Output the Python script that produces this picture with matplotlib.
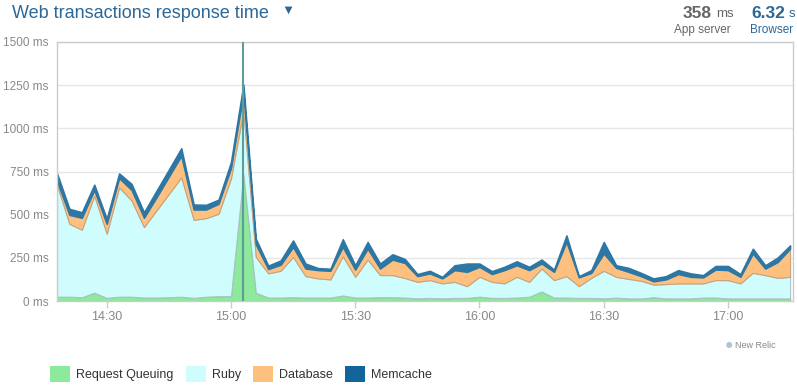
import matplotlib
matplotlib.use("Agg")
import matplotlib.pyplot as plt
from matplotlib.patches import Patch
import numpy as np

plt.rcParams['font.family'] = ['Liberation Sans', 'DejaVu Sans']

# minutes past 14:00, one sample every 3 minutes
minutes = list(range(18, 198, 3))

queuing = [25, 25, 22, 48, 18, 25, 25, 20, 20, 22, 25, 18, 25, 28, 28, 735, 48, 20, 20, 22,
           20, 20, 20, 32, 20, 20, 22, 22, 20, 15, 18, 15, 18, 18, 25, 18, 18, 20, 25, 55,
           20, 20, 18, 18, 15, 20, 15, 15, 22, 15, 15, 15, 20, 20, 15, 15, 15, 15, 15, 15]
ruby = [647, 422, 391, 562, 372, 633, 557, 408, 504, 598, 691, 452, 455, 477, 682, 365, 207, 140, 155, 233,
        124, 111, 105, 227, 120, 220, 128, 128, 113, 96, 103, 87, 93, 68, 115, 93, 84, 120, 86, 133,
        101, 124, 68, 116, 160, 120, 113, 102, 73, 83, 87, 87, 82, 101, 106, 87, 148, 135, 119, 125]
database = [23, 52, 69, 33, 57, 54, 61, 54, 76, 100, 125, 60, 50, 58, 60, 106, 73, 25, 35, 58,
            44, 48, 50, 54, 42, 63, 38, 90, 87, 33, 39, 29, 68, 83, 58, 45, 77, 67, 68, 29,
            48, 198, 51, 29, 100, 52, 41, 27, 19, 27, 54, 38, 35, 61, 58, 38, 112, 38, 92, 163]
memcache = [45, 35, 32, 31, 29, 27, 35, 32, 38, 41, 44, 29, 27, 24, 35, 48, 33, 20, 25, 38,
            29, 12, 12, 45, 25, 39, 29, 31, 23, 12, 15, 9, 28, 48, 19, 17, 19, 23, 19, 23,
            13, 38, 7, 16, 67, 15, 23, 19, 17, 19, 23, 20, 13, 21, 24, 16, 28, 19, 26, 19]

event_minute = 63
series_names = ['Request Queuing', 'Ruby', 'Database', 'Memcache']
colors = ['#8de99b', '#cffdfd', '#fec07f', '#2d77a5']
legend_colors = ['#8de99b', '#cffdfd', '#fec07f', '#14649c']
edges = ['#7fc98c', '#a9c4c4', '#c9a27a', '#2d77a5']

yticks = [0, 250, 500, 750, 1000, 1250, 1500]
xticks = [30, 60, 90, 120, 150, 180]
xlabels = ['14:30', '15:00', '15:30', '16:00', '16:30', '17:00']

fig = plt.figure(figsize=(7.97, 3.91), dpi=100)
ax = fig.add_axes([57 / 797, 90 / 391, 736 / 797, 259 / 391])

polys = ax.stackplot(minutes, queuing, ruby, database, memcache, colors=colors, zorder=2)
for p, ec in zip(polys, edges):
    p.set_edgecolor(ec)
    p.set_linewidth(0.8)
polys[3].set_linewidth(1.1)

ax.axvline(event_minute, color='#5d9e98', lw=1.5, zorder=3)

ax.set_xlim(minutes[0], minutes[-1] + 0.7)
ax.set_ylim(0, 1500)
ax.set_yticks(yticks)
ax.set_yticklabels([f'{v} ms' for v in yticks])
ax.set_xticks(xticks)
ax.set_xticklabels(xlabels)
ax.grid(axis='y', color='#e6e6e6', lw=1, zorder=0)
ax.set_axisbelow(True)
ax.tick_params(axis='y', length=0, pad=6, labelsize=8.5, labelcolor='#888888')
ax.tick_params(axis='x', length=5, width=1, color='#cccccc', pad=2, labelsize=9, labelcolor='#888888')
for s in ax.spines.values():
    s.set_color('#cccccc')
    s.set_linewidth(1)

fig.text(12 / 797, 1 - 13 / 391, 'Web transactions response time', fontsize=13,
         color='#2b6797', ha='left', va='center')
fig.text(288 / 797, 1 - 11 / 391, '\u25BC', fontsize=9.5, color='#2b6797', ha='center', va='center')

fig.text(712 / 797, 1 - 13 / 391, '358', fontsize=12.5, fontweight='bold', color='#666666',
         ha='right', va='center')
fig.text(716 / 797, 1 - 14 / 391, 'ms', fontsize=9.5, color='#666666', ha='left', va='center')
fig.text(785 / 797, 1 - 13 / 391, '6.32', fontsize=12.5, fontweight='bold', color='#2b6797',
         ha='right', va='center')
fig.text(789 / 797, 1 - 14 / 391, 's', fontsize=9.5, color='#2b6797', ha='left', va='center')
fig.text(731 / 797, 1 - 30 / 391, 'App server', fontsize=8.5, color='#666666', ha='right', va='center')
fig.text(793 / 797, 1 - 30 / 391, 'Browser', fontsize=8.5, color='#2b6797', ha='right', va='center')

fig.text(733 / 797, 1 - 345 / 391, '\u25CF', fontsize=10, color='#a9c9d1', ha='right', va='center')
fig.text(735 / 797, 1 - 345 / 391, 'New Relic', fontsize=6.5, color='#888888', ha='left', va='center')

handles = [Patch(facecolor=c, edgecolor='none') for c in legend_colors]
fig.legend(handles, series_names, loc='center left', bbox_to_anchor=(39 / 797, 1 - 374 / 391),
           ncol=4, frameon=False, fontsize=9, labelcolor='#333333', handlelength=1.6,
           handleheight=1.6, handletextpad=0.5, columnspacing=0.95)

fig.savefig('out.png', dpi=100)
